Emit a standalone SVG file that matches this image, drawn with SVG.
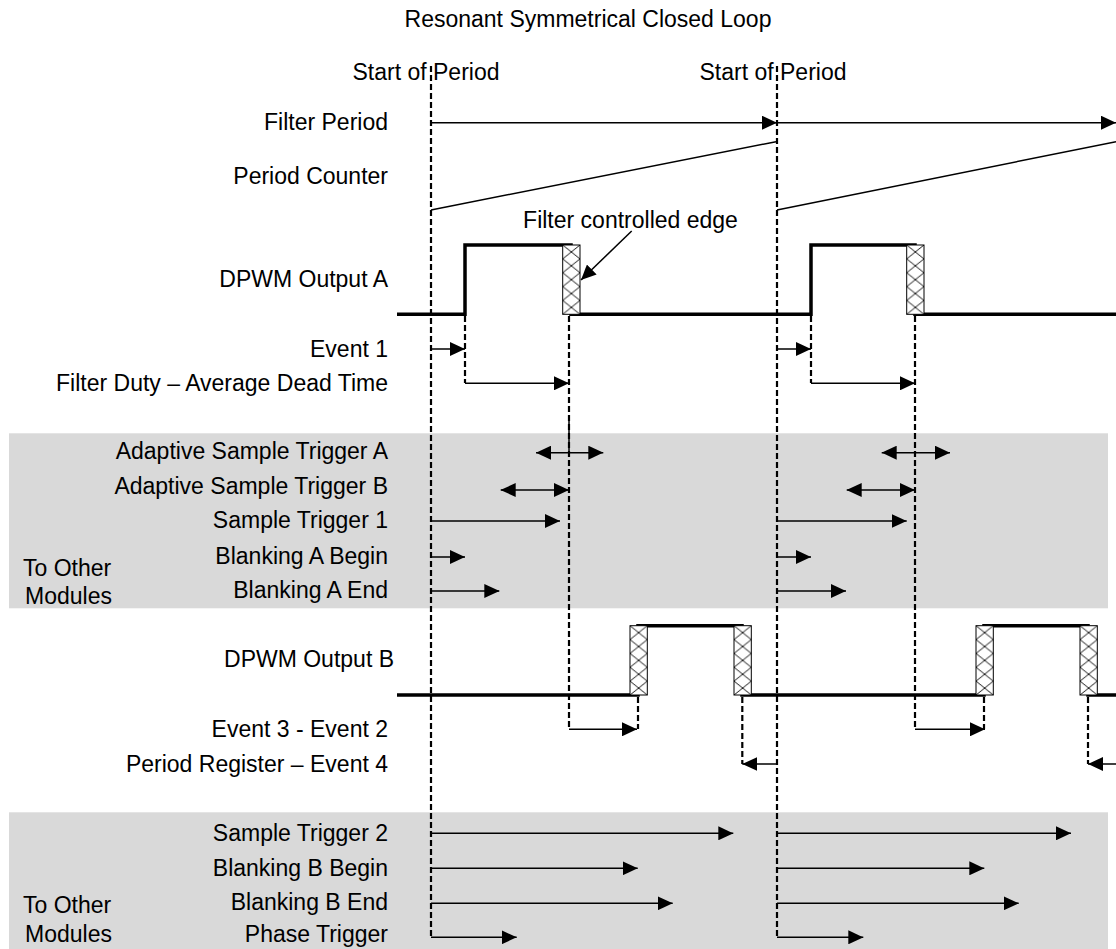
<svg xmlns="http://www.w3.org/2000/svg" width="1116" height="949" viewBox="0 0 1116 949">
<style>
text{font-family:"Liberation Sans",Arial,Helvetica,sans-serif;font-size:23px;fill:#000}
.r{text-anchor:end}
.m{text-anchor:middle}
.band{fill:#d9d9d9}
.thin{stroke:#000;stroke-width:1.5;fill:none}
.dash{stroke:#000;stroke-width:2.2;stroke-dasharray:6 3;fill:none}
.sig{stroke:#000;stroke-width:3.5;fill:none;stroke-linejoin:miter}
.hatch{fill:url(#xh);stroke:#000;stroke-width:1}
.a{marker-end:url(#ah)}
.aa{marker-start:url(#ah);marker-end:url(#ah)}
</style>
<defs>
<marker id="ah" viewBox="0 0 15 14" refX="15" refY="7" markerWidth="15" markerHeight="14" markerUnits="userSpaceOnUse" orient="auto-start-reverse">
<path d="M0,0 L15,7 L0,14 Z" fill="#000"/>
</marker>
<pattern id="xh" patternUnits="objectBoundingBox" width="1" height="0.2">
<rect x="0" y="0" width="17.3" height="13.9" fill="#fff"/>
<path d="M0,0 L17.3,13.9 M17.3,0 L0,13.9" stroke="#000" stroke-width="0.9" fill="none"/>
</pattern>
</defs>
<rect width="1116" height="949" fill="#fff"/>

<g id="bands">
<rect class="band" x="9" y="433.3" width="1099" height="175"/>
<rect class="band" x="9" y="812.3" width="1099" height="136.7"/>
</g>

<g id="title"><text class="m" x="588" y="27">Resonant Symmetrical Closed Loop</text></g>
<g id="start-of-period-1"><text class="m" x="426" y="80">Start of Period</text></g>
<g id="start-of-period-2"><text class="m" x="773" y="80">Start of Period</text></g>

<g id="labels">
<text class="r" x="388" y="130">Filter Period</text>
<text class="r" x="388" y="184">Period Counter</text>
<text class="r" x="388" y="287">DPWM Output A</text>
<text class="r" x="388" y="357">Event 1</text>
<text class="r" x="388" y="391">Filter Duty – Average Dead Time</text>
<text class="r" x="388" y="459">Adaptive Sample Trigger A</text>
<text class="r" x="388" y="494">Adaptive Sample Trigger B</text>
<text class="r" x="388" y="528">Sample Trigger 1</text>
<text class="r" x="388" y="564">Blanking A Begin</text>
<text class="r" x="388" y="598">Blanking A End</text>
<text x="23" y="576">To Other</text>
<text x="25" y="604">Modules</text>
<text class="r" x="394" y="667">DPWM Output B</text>
<text class="r" x="388" y="737">Event 3 - Event 2</text>
<text class="r" x="388" y="772">Period Register – Event 4</text>
<text class="r" x="388" y="841">Sample Trigger 2</text>
<text class="r" x="388" y="876">Blanking B Begin</text>
<text class="r" x="388" y="910">Blanking B End</text>
<text class="r" x="388" y="942">Phase Trigger</text>
<text x="23" y="913">To Other</text>
<text x="25" y="942">Modules</text>
</g>

<g id="period-counter">
<path class="thin" d="M431,210 L776,141.7"/>
<path class="thin" d="M777,210 L1116,141.7"/>
</g>

<g id="dpwm-a">
<path class="sig" d="M397,314.3 H465 V245 H571 V314.3 H811 V245 H915 V314.3 H1116"/>
<rect class="hatch" x="562.7" y="245" width="17.3" height="69.3"/>
<rect class="hatch" x="906.7" y="245" width="17.3" height="69.3"/>
</g>

<g id="dpwm-b">
<path class="sig" d="M397,695 H638 V625.7 H742 V695 H984 V625.7 H1088 V695 H1116"/>
<rect class="hatch" x="630" y="625.7" width="17.3" height="69.3"/>
<rect class="hatch" x="734" y="625.7" width="17.3" height="69.3"/>
<rect class="hatch" x="976" y="625.7" width="17.3" height="69.3"/>
<rect class="hatch" x="1080" y="625.7" width="17.3" height="69.3"/>
</g>

<g id="filter-controlled-edge">
<text class="m" x="630.5" y="228">Filter controlled edge</text>
<path class="thin a" d="M631.7,231 L581,280"/>
</g>

<g id="connectors">
<path class="dash" d="M431,66 V937"/>
<path class="dash" d="M777,66 V937"/>
<path class="dash" d="M465,316 V383"/>
<path class="dash" d="M811,316 V383"/>
<path class="dash" d="M569,316 V729"/>
<path class="dash" d="M915,316 V729"/>
<path class="thin" d="M569,415 V455"/>
<path class="dash" d="M638,697 V729"/>
<path class="dash" d="M984,697 V729"/>
<path class="dash" d="M742.3,697 V764"/>
<path class="dash" d="M1088,697 V764"/>

<path class="thin a" d="M431,122.7 H777"/>
<path class="thin a" d="M777,122.7 H1116"/>
<path class="thin a" d="M431,349 H465"/>
<path class="thin a" d="M777,349 H811"/>
<path class="thin a" d="M465,383.3 H569"/>
<path class="thin a" d="M811,383.3 H915"/>
<path class="thin aa" d="M536,452.7 H603.3"/>
<path class="thin aa" d="M881.7,452.7 H950"/>
<path class="thin aa" d="M500.7,490 H569"/>
<path class="thin aa" d="M846.7,490 H915"/>
<path class="thin a" d="M431,521 H560"/>
<path class="thin a" d="M777,521 H906.7"/>
<path class="thin a" d="M431,557 H465"/>
<path class="thin a" d="M777,557 H811"/>
<path class="thin a" d="M431,591 H499.3"/>
<path class="thin a" d="M777,591 H846"/>
<path class="thin a" d="M569,729.3 H637"/>
<path class="thin a" d="M915,729.3 H985"/>
<path class="thin a" d="M777,764 H742.3"/>
<path class="thin a" d="M1116,764 H1088"/>
<path class="thin a" d="M431,833.3 H733.3"/>
<path class="thin a" d="M777,833.3 H1071"/>
<path class="thin a" d="M431,868.3 H637.7"/>
<path class="thin a" d="M777,868.3 H984.3"/>
<path class="thin a" d="M431,903.3 H672.7"/>
<path class="thin a" d="M777,903.3 H1018.7"/>
<path class="thin a" d="M431,937.3 H516.7"/>
<path class="thin a" d="M777,937.3 H863.3"/>
</g>
</svg>
